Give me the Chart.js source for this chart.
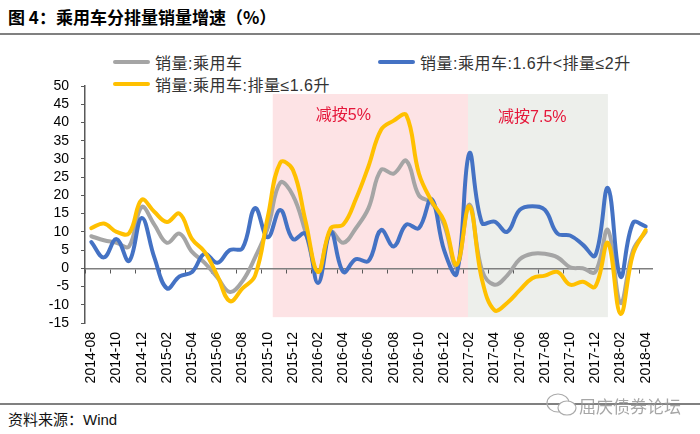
<!DOCTYPE html>
<html>
<head>
<meta charset="utf-8">
<script src="https://cdn.jsdelivr.net/npm/chart.js@4.4.0/dist/chart.umd.min.js"></script>
<style>
  body { margin: 0; background: #fff; }
  #wrap { position: relative; width: 700px; height: 434px; overflow: hidden; font-family: "Liberation Sans", "Noto Sans CJK SC", sans-serif; }
  #title { position: absolute; left: 8px; top: 4px; font-size: 17px; font-weight: bold; color: #000; white-space: nowrap; font-family: "Noto Sans CJK SC", sans-serif; }
  .rule { position: absolute; left: 0; width: 700px; height: 2px; background: #808080; }
  #chartBox { position: absolute; left: 0; top: 40px; width: 700px; height: 355px; }
  .lg { position: absolute; height: 20px; font-size: 16px; color: #333; white-space: nowrap; display: flex; align-items: center; letter-spacing: 0.5px; }
  .lg i { display: inline-block; width: 37px; height: 4px; margin-right: 5px; border-radius: 2px; }
  #source { position: absolute; left: 8px; top: 408px; font-size: 15px; color: #111; }
  #mark { position: absolute; left: 545px; top: 392px; font-size: 17px; color: rgba(150,150,150,0.85); display: flex; align-items: center; font-family: "Noto Sans CJK SC", sans-serif; }
</style>
</head>
<body>
<div id="wrap">
  <div id="title">图 4：乘用车分排量销量增速（%）</div>
  <div class="rule" style="top:33px"></div>
  <div id="legend"></div>
  <div id="chartBox"><canvas id="growthChart" width="700" height="355"></canvas></div>
  <div class="rule" style="top:403px"></div>
  <div id="source">资料来源：Wind</div>
  <div id="mark">
    <svg width="34" height="26" viewBox="0 0 34 26"><ellipse cx="13" cy="11" rx="11" ry="9" fill="none" stroke="#aaa" stroke-width="1.2"/><ellipse cx="22" cy="16" rx="9" ry="7" fill="#fff" stroke="#aaa" stroke-width="1.2"/></svg>
    <span>屈庆债券论坛</span>
  </div>
</div>
<script>
// 月份（2014-08 ~ 2018-04）
const months = [
  '2014-08', '2014-09', '2014-10', '2014-11', '2014-12',
  '2015-01', '2015-02', '2015-03', '2015-04', '2015-05', '2015-06', '2015-07', '2015-08', '2015-09', '2015-10', '2015-11', '2015-12',
  '2016-01', '2016-02', '2016-03', '2016-04', '2016-05', '2016-06', '2016-07', '2016-08', '2016-09', '2016-10', '2016-11', '2016-12',
  '2017-01', '2017-02', '2017-03', '2017-04', '2017-05', '2017-06', '2017-07', '2017-08', '2017-09', '2017-10', '2017-11', '2017-12',
  '2018-01', '2018-02', '2018-03', '2018-04'
];

// 横轴显示的标签（隔月）
const tickLabels = [
  '2014-08', '2014-10', '2014-12', '2015-02', '2015-04', '2015-06', '2015-08', '2015-10', '2015-12',
  '2016-02', '2016-04', '2016-06', '2016-08', '2016-10', '2016-12', '2017-02', '2017-04', '2017-06',
  '2017-08', '2017-10', '2017-12', '2018-02', '2018-04'
];

// 销量:乘用车 同比 %
const totalGrowth = [
  8.8, 7.7, 7.0, 6.0, 16.8, 12.0, 7.0, 9.5, 4.5, 1.5, -2.5, -6.5, -3.5, 3.0, 11.0, 23.5, 20.0,
  10.0, -1.0, 10.0, 7.0, 11.0, 16.5, 27.0, 26.0, 29.5, 20.0, 18.0, 12.0,
  0.5, 17.5, -0.5, -4.5, -2.0, 2.5, 4.0, 4.0, 3.0, 0.3, 0.0, -1.0,
  10.5, -9.5, 5.0, 10.0
];

// 销量:乘用车:1.6升<排量≤2升 同比 %
const midGrowth = [
  7.2, 3.0, 8.0, 2.0, 13.8, 3.0, -5.5, -2.2, -1.0, 4.0, 1.5, 5.0, 5.5, 16.5, 8.5, 16.0, 8.0,
  9.5, -4.0, 10.0, -1.0, 2.5, 2.0, 10.5, 6.0, 12.0, 11.0, 19.0, 5.0,
  -1.5, 31.5, 12.5, 12.8, 10.0, 16.0, 17.0, 16.0, 9.5, 9.0, 6.5, 3.5,
  22.0, -2.3, 12.5, 11.5
];

// 销量:乘用车:排量≤1.6升 同比 %
const smallGrowth = [
  11.0, 12.3, 10.0, 9.6, 18.8, 15.5, 12.7, 15.0, 8.0, 4.5, -2.0, -9.0, -5.5, -2.0, 14.0, 29.0, 27.0,
  13.0, -1.0, 11.0, 12.0, 19.0, 28.0, 38.0, 40.5, 42.0, 26.0, 18.5, 13.0,
  1.0, 17.0, -3.0, -11.5, -9.5, -6.0, -2.7, -2.0, -1.0, -4.5, -3.7, -5.0,
  7.0, -12.5, 4.0, 10.5
];

const yTicks = { min: -15, max: 50, step: 5 };

const seriesList = [
  { name: '销量:乘用车', data: totalGrowth, color: '#A5A5A5', order: 2 },
  { name: '销量:乘用车:1.6升<排量≤2升', data: midGrowth, color: '#4472C4', order: 1 },
  { name: '销量:乘用车:排量≤1.6升', data: smallGrowth, color: '#FFC000', order: 0 }
];

// 购置税减半区间（横轴按月份序号）
const policyBands = [
  { from: 14.4, to: 29.9, low: -13.4, high: 47.8, fill: '#FDE3E5', text: '减按5%', tx: 20, ty: 42 },
  { from: 29.9, to: 41.0, low: -13.4, high: 47.8, fill: '#EDEFEB', text: '减按7.5%', tx: 35, ty: 41.2 }
];

// 图例
const legendPos = [[113, 52], [378, 52], [113, 74]];
const legendEl = document.getElementById('legend');
seriesList.forEach((s, i) => {
  const d = document.createElement('div');
  d.className = 'lg';
  d.style.left = legendPos[i][0] + 'px';
  d.style.top = legendPos[i][1] + 'px';
  d.innerHTML = `<i style="background:${s.color}"></i>${s.name}`;
  legendEl.appendChild(d);
});

const bandPlugin = {
  id: 'bands',
  beforeDraw(chart) {
    const { ctx, scales: { x, y } } = chart;
    ctx.save();
    policyBands.forEach(b => {
      const x1 = x.getPixelForValue(b.from);
      const x2 = x.getPixelForValue(b.to);
      const y1 = y.getPixelForValue(b.high);
      const y2 = y.getPixelForValue(b.low);
      ctx.fillStyle = b.fill;
      ctx.fillRect(x1, y1, x2 - x1, y2 - y1);
      ctx.fillStyle = '#E5173A';
      ctx.font = '16px "Liberation Sans", "Noto Sans CJK SC"';
      ctx.textAlign = 'center';
      ctx.textBaseline = 'middle';
      ctx.fillText(b.text, x.getPixelForValue(b.tx), y.getPixelForValue(b.ty));
    });
    ctx.restore();
  }
};

const axisColor = '#595959';
const tickFont = { family: '"Liberation Sans", Arial, sans-serif', size: 14 };

new Chart(document.getElementById('growthChart'), {
  type: 'line',
  data: {
    labels: months,
    datasets: seriesList.map(s => ({
      label: s.name,
      data: s.data,
      borderColor: s.color,
      backgroundColor: s.color,
      borderWidth: 4,
      pointRadius: 0,
      tension: 0.4,
      borderCapStyle: 'round',
      borderJoinStyle: 'round',
      order: s.order,
      xAxisID: 'x'
    }))
  },
  options: {
    responsive: false,
    animation: false,
    devicePixelRatio: 1,
    layout: { padding: { left: 45, right: 48, top: 46, bottom: 2 } },
    plugins: { legend: { display: false }, tooltip: { enabled: false } },
    scales: {
      x: {
        type: 'category',
        position: { y: 0 },
        offset: true,
        grid: {
          offset: true,
          drawOnChartArea: false,
          drawTicks: true,
          tickLength: 4,
          color: ctx => (ctx.index % 2 === 0 ? axisColor : 'rgba(0,0,0,0)')
        },
        border: { display: true, color: '#7F7F7F', width: 1.5 },
        ticks: { display: false }
      },
      xLabels: {
        type: 'category',
        position: 'bottom',
        offset: true,
        grid: { display: false, drawTicks: false },
        border: { display: false },
        afterFit: s => { s.height = 70; },
        ticks: {
          autoSkip: false,
          minRotation: 90,
          maxRotation: 90,
          padding: 9,
          color: '#000',
          font: tickFont,
          callback: function (value) {
            const lab = this.getLabelForValue(value);
            return tickLabels.includes(lab) ? lab : '';
          }
        }
      },
      y: {
        min: yTicks.min,
        max: yTicks.max,
        afterFit: s => { s.width = 40; },
        grid: { drawOnChartArea: false, drawTicks: true, tickLength: 4, color: axisColor },
        border: { display: true, color: axisColor, width: 1.5 },
        ticks: { stepSize: yTicks.step, autoSkip: false, padding: 12, color: '#000', font: tickFont }
      }
    }
  },
  plugins: [bandPlugin]
});
</script>
</body>
</html>
